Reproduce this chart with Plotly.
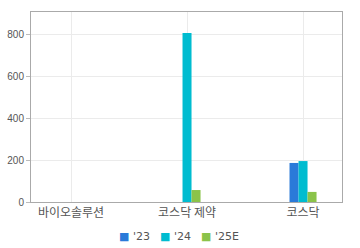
import plotly.graph_objects as go

categories = ["바이오솔루션", "코스닥 제약", "코스닥"]
series_names = ["'23", "'24", "'25E"]
v23 = [None, None, 186]
v24 = [None, 805, 195]
v25 = [None, 57, 48]
colors = ["#2a7ad9", "#00bcd0", "#8bc34a"]

fig = go.Figure()
for name, vals, c in zip(series_names, [v23, v24, v25], colors):
    fig.add_trace(go.Bar(x=categories, y=vals, name=name, marker_color=c,
                         marker_line_width=0, showlegend=False))

# legend drawn as annotations (colored squares + labels)
legend_x = [0.2765, 0.408, 0.539]
for name, c, lx in zip(series_names, colors, legend_x):
    fig.add_annotation(
        x=lx, y=-0.179, xref="paper", yref="paper", xanchor="left", yanchor="middle",
        showarrow=False,
        text=f"<span style='color:{c}'>■</span> {name}",
        font=dict(family="DejaVu Sans, sans-serif", size=11, color="#555"),
    )

font = "Noto Sans CJK KR, Noto Sans, sans-serif"
fig.update_layout(
    width=360, height=248,
    margin=dict(l=31, r=18, t=12, b=46, autoexpand=False),
    plot_bgcolor="white", paper_bgcolor="white",
    barmode="group", bargap=0.767, bargroupgap=0,
    font=dict(family=font, size=11, color="#555"),
    showlegend=False,
    xaxis=dict(type="category", range=[-0.345, 2.336], showgrid=True,
               gridcolor="#ebebeb", showline=True, linecolor="#aaa", mirror=True,
               ticks="", tickfont=dict(size=12, color="#555")),
    yaxis=dict(range=[0, 905], dtick=200, showgrid=True, gridcolor="#ebebeb",
               showline=True, linecolor="#aaa", mirror=True, ticks="outside",
               ticklen=4, tickcolor="#bbb", zeroline=False,
               tickfont=dict(family="Liberation Sans, Arial, sans-serif", size=10, color="#555")),
)
fig.write_html("out.html")
